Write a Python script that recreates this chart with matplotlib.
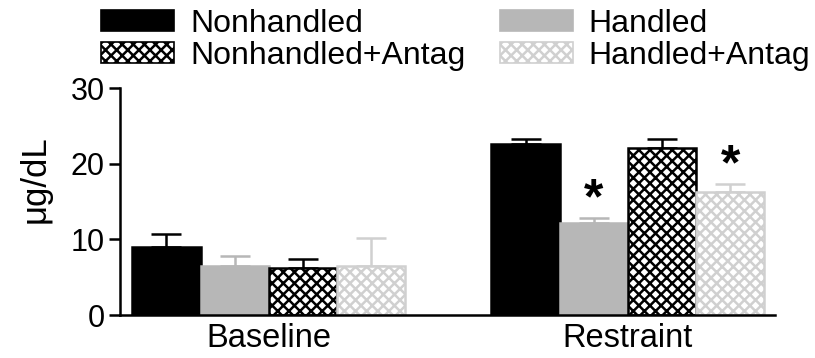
import matplotlib.pyplot as plt
import numpy as np
from matplotlib.patches import Patch

# ── DATA ──────────────────────────────────────────────
groups = ['Baseline', 'Restraint']
series = ['Nonhandled', 'Handled', 'Nonhandled+Antag', 'Handled+Antag']
means  = {
    'Nonhandled':       [9.0, 22.6],
    'Handled':          [6.5, 12.2],
    'Nonhandled+Antag': [6.2, 22.1],
    'Handled+Antag':    [6.5, 16.2],
}
errors = {
    'Nonhandled':       [1.7, 0.7],
    'Handled':          [1.3, 0.6],
    'Nonhandled+Antag': [1.2, 1.2],
    'Handled+Antag':    [3.7, 1.1],
}
# significance markers (series, group index)
stars = [('Handled', 1), ('Handled+Antag', 1)]

# ── STYLES ────────────────────────────────────────────
styles = {
    'Nonhandled':       dict(color='black',   edgecolor='black',   hatch=None,  ecolor='black'),
    'Handled':          dict(color='#b7b7b7', edgecolor='#b7b7b7', hatch=None,  ecolor='#b7b7b7'),
    'Nonhandled+Antag': dict(color='white',   edgecolor='black',   hatch='xxx', ecolor='black'),
    'Handled+Antag':    dict(color='white',   edgecolor='#d0d0d0', hatch='xxx', ecolor='#d0d0d0'),
}

plt.rcParams['font.family'] = ['Liberation Sans', 'DejaVu Sans']
plt.rcParams['hatch.linewidth'] = 1.8

fig = plt.figure(figsize=(8.15, 3.58), dpi=100)
ax = fig.add_axes([0.147, 0.12, 0.804, 0.634])

x = np.arange(len(groups))
width = 0.19
offsets = (np.arange(len(series)) - 1.5) * width

for s, off in zip(series, offsets):
    st = styles[s]
    ax.bar(x + off, means[s], width, color=st['color'], edgecolor=st['edgecolor'],
           hatch=st['hatch'], linewidth=1.8, zorder=2)
    ax.errorbar(x + off, means[s], yerr=[np.zeros(len(groups)), errors[s]],
                fmt='none', ecolor=st['ecolor'], elinewidth=1.8, capsize=11,
                capthick=1.8, zorder=1)

for s, gi in stars:
    i = series.index(s)
    ax.annotate('*', xy=(x[gi] + offsets[i], means[s][gi] + errors[s][gi]),
                xytext=(0, -4), textcoords='offset points',
                ha='center', va='bottom', fontsize=36, fontweight='bold')

ax.set_xlim(-0.415, 1.41)
ax.set_ylim(0, 30)
ax.set_yticks([0, 10, 20, 30])
ax.set_xticks(x)
ax.set_xticklabels(groups, fontsize=23.5)
ax.tick_params(axis='x', length=0, pad=6)
ax.tick_params(axis='y', labelsize=22, length=8, width=1.8, direction='out', pad=3)
ax.set_ylabel('μg/dL', fontsize=25)
ax.yaxis.set_label_coords(-0.104, 0.6)
for side in ['top', 'right']:
    ax.spines[side].set_visible(False)
for side in ['left', 'bottom']:
    ax.spines[side].set_linewidth(1.8)

# legend: column-wise order to get rows Nonhandled/Handled, Antag pairs
order = ['Nonhandled', 'Nonhandled+Antag', 'Handled', 'Handled+Antag']
handles = [Patch(facecolor=styles[s]['color'], edgecolor=styles[s]['edgecolor'],
                 hatch=styles[s]['hatch'], linewidth=1.2, label=s) for s in order]
fig.legend(handles=handles, loc='upper left', bbox_to_anchor=(0.124, 0.975), ncol=2,
           frameon=False, fontsize=23, handlelength=2.29, handleheight=0.63,
           handletextpad=0.5, columnspacing=1.07, labelspacing=0.05,
           borderaxespad=0, borderpad=0)

plt.savefig('out.png', dpi=100)
